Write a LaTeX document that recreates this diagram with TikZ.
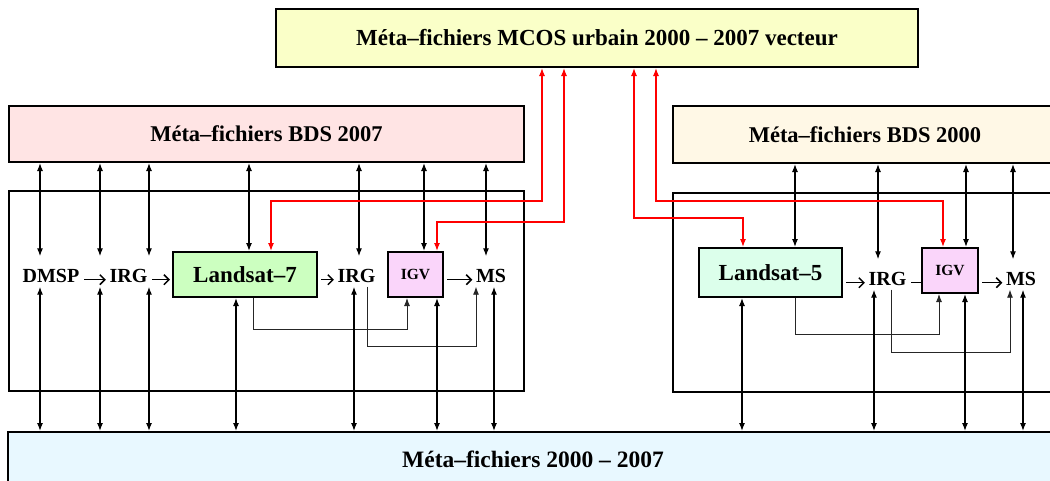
\documentclass[tikz,border=0pt]{standalone}
\usepackage{fontspec}
\setmainfont{Liberation Serif}
\usetikzlibrary{arrows.meta}

\definecolor{mcosfill}{RGB}{250,255,200}
\definecolor{bdsAfill}{RGB}{255,228,228}
\definecolor{bdsBfill}{RGB}{255,248,230}
\definecolor{allfill}{RGB}{232,248,255}
\definecolor{lsatAfill}{RGB}{204,255,192}
\definecolor{lsatBfill}{RGB}{220,255,235}
\definecolor{igvfill}{RGB}{250,213,250}

\begin{document}
\begin{tikzpicture}[x=1pt, y=-1pt,
    meta/.style={rectangle, draw, line width=2pt, inner sep=0pt, font=\bfseries\fontsize{22.5}{26}\selectfont},
    sat/.style={rectangle, draw, line width=2pt, inner sep=0pt, font=\bfseries\fontsize{23}{26}\selectfont},
    igv/.style={rectangle, draw, line width=2pt, inner sep=0pt, fill=igvfill, font=\bfseries\fontsize{15.5}{18}\selectfont},
    lbl/.style={inner sep=1.5pt, text height=24pt, text depth=3pt, font=\bfseries\fontsize{20}{22}\selectfont},
    panel/.style={draw, line width=2pt},
    dbl/.style={{Latex[length=8pt,width=6pt]}-{Latex[length=8pt,width=6pt]}, line width=1.2pt},
    rlink/.style={{Latex[length=8pt,width=6pt]}-{Latex[length=8pt,width=6pt]}, line width=1.2pt, red},
    flow/.style={-{Straight Barb[length=5pt,width=10pt]}, line width=1.5pt, shorten <=3pt, shorten >=2pt},
    link/.style={-{Latex[length=8pt,width=6pt]}, line width=0.9pt, black!85}]
    \useasboundingbox (0,0) rectangle (1050,480);

    % meta-files
    \node (mcos) at (597,38) [meta, fill=mcosfill, minimum width=642, minimum height=58, font=\bfseries\fontsize{23}{26}\selectfont] {Méta–fichiers MCOS urbain 2000 – 2007 vecteur};
    \node (bdsA) at (266.5,134) [meta, fill=bdsAfill, minimum width=515, minimum height=56] {Méta–fichiers BDS 2007};
    \node (bdsB) at (865,134.5) [meta, fill=bdsBfill, minimum width=384, minimum height=57] {Méta–fichiers BDS 2000};
    \node (all) at (533,459) [meta, fill=allfill, minimum width=1050, minimum height=54, font=\bfseries\fontsize{23.5}{26}\selectfont] {Méta–fichiers 2000 – 2007};

    \draw[panel] (9,191) rectangle (524,391);
    \draw[panel] (673,193) rectangle (1062,392);

    % 2007 chain
    \node (dmsp) at (51,271.5) [lbl] {DMSP};
    \node (irgA) at (128.5,271.5) [lbl] {IRG};
    \node (lsatA) at (245,274.5) [sat, fill=lsatAfill, minimum width=144, minimum height=45] {Landsat–7};
    \node (irgB) at (356.5,271.5) [lbl] {IRG};
    \node (igvA) at (415.5,274.5) [igv, minimum width=55, minimum height=45] {IGV};
    \node (msA) at (491,271.5) [lbl] {MS};

    % 2000 chain
    \node (lsatB) at (770.5,272.5) [sat, fill=lsatBfill, minimum width=143, minimum height=49] {Landsat–5};
    \node (irgC) at (887.5,274.5) [lbl] {IRG};
    \node (igvB) at (950,270.5) [igv, minimum width=56, minimum height=45] {IGV};
    \node (msB) at (1021,274.5) [lbl] {MS};

    \draw[flow] (dmsp.mid east) -- (irgA.mid west);
    \draw[flow] (irgA.mid east) -- (lsatA.west |- irgA.mid east);
    \draw[flow] (lsatA.east |- irgB.mid west) -- (irgB.mid west);
    \draw[flow] (igvA.east |- msA.mid west) -- (msA.mid west);
    \draw[flow] (lsatB.east |- irgC.mid west) -- (irgC.mid west);
    \draw[line width=1.2pt, shorten <=3pt] (irgC.mid east) -- (igvB.west |- irgC.mid east);
    \draw[flow] (igvB.east |- msB.mid west) -- (msB.mid west);

    \draw[link] (lsatA.south -| 253,0) -- (253,329) -| (igvA.south -| 407,0);
    \draw[link] (irgB.south -| 367,0) -- (367,346) -| (msA.south -| 476,0);
    \draw[link] (lsatB.south -| 795,0) -- (795,334) -| (igvB.south -| 939,0);
    \draw[link] (irgC.south -| 891,0) -- (891,352) -| (msB.south -| 1010,0);

    % exchanges with BDS
    \draw[dbl] (bdsA.south -| 40,0) -- (dmsp.north -| 40,0);
    \draw[dbl] (bdsA.south -| 100,0) -- (irgA.north -| 100,0);
    \draw[dbl] (bdsA.south -| 149,0) -- (irgA.north -| 149,0);
    \draw[dbl] (bdsA.south -| 249,0) -- (lsatA.north -| 249,0);
    \draw[dbl] (bdsA.south -| 359,0) -- (irgB.north -| 359,0);
    \draw[dbl] (bdsA.south -| 424,0) -- (igvA.north -| 424,0);
    \draw[dbl] (bdsA.south -| 486,0) -- (msA.north -| 486,0);
    \draw[dbl] (bdsB.south -| 795,0) -- (lsatB.north -| 795,0);
    \draw[dbl] (bdsB.south -| 878,0) -- (irgC.north -| 878,0);
    \draw[dbl] (bdsB.south -| 966,0) -- (igvB.north -| 966,0);
    \draw[dbl] (bdsB.south -| 1013,0) -- (msB.north -| 1013,0);

    % exchanges with 2000-2007
    \draw[dbl] (dmsp.south -| 40,0) -- (all.north -| 40,0);
    \draw[dbl] (irgA.south -| 100,0) -- (all.north -| 100,0);
    \draw[dbl] (irgA.south -| 149,0) -- (all.north -| 149,0);
    \draw[dbl] (lsatA.south -| 236,0) -- (all.north -| 236,0);
    \draw[dbl] (irgB.south -| 354,0) -- (all.north -| 354,0);
    \draw[dbl] (igvA.south -| 437,0) -- (all.north -| 437,0);
    \draw[dbl] (msA.south -| 494,0) -- (all.north -| 494,0);
    \draw[dbl] (lsatB.south -| 742,0) -- (all.north -| 742,0);
    \draw[dbl] (irgC.south -| 874,0) -- (all.north -| 874,0);
    \draw[dbl] (igvB.south -| 965,0) -- (all.north -| 965,0);
    \draw[dbl] (msB.south -| 1023,0) -- (all.north -| 1023,0);

    % MCOS
    \draw[rlink] (mcos.south -| 542,0) -- (542,201) -| (lsatA.north -| 271,0);
    \draw[rlink] (mcos.south -| 564,0) -- (564,222) -| (igvA.north -| 437,0);
    \draw[rlink] (mcos.south -| 634,0) -- (634,218) -| (lsatB.north -| 743,0);
    \draw[rlink] (mcos.south -| 656,0) -- (656,201) -| (igvB.north -| 943,0);
\end{tikzpicture}
\end{document}
